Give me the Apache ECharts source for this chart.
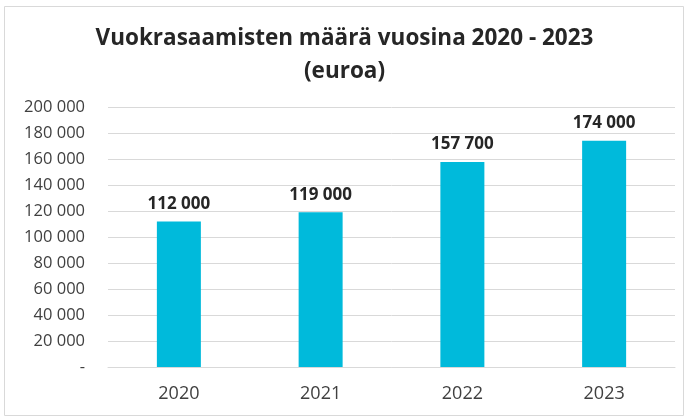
<!DOCTYPE html>
<html>
<head>
<meta charset="utf-8">
<script src="https://cdn.jsdelivr.net/npm/echarts@6/dist/echarts.min.js"></script>
<style>
  html, body { margin: 0; padding: 0; background: #ffffff; }
  #chart { width: 689px; height: 419px; }
</style>
</head>
<body>
<div id="chart"></div>
<script>
// Rent receivables per year (euros)
const years = ['2020', '2021', '2022', '2023'];
const receivables = [112000, 119000, 157700, 174000];
const titleText = 'Vuokrasaamisten määrä vuosina 2020 - 2023\n(euroa)';

// Finnish-style thousands grouping: "120 000", zero shown as "-"
function fmt(v) {
  if (v === 0) return '-';
  return String(v).replace(/\B(?=(\d{3})+(?!\d))/g, ' ');
}

const chart = echarts.init(document.getElementById('chart'));
chart.setOption({
  animation: false,
  textStyle: { fontFamily: '"Open Sans", sans-serif' },
  graphic: [{
    type: 'rect',
    shape: { x: 4.5, y: 6.5, width: 679, height: 409 },
    style: { fill: 'none', stroke: '#d9d9d9', lineWidth: 1 },
    silent: true
  }],
  title: {
    text: titleText,
    left: 'center',
    top: 17,
    textStyle: {
      fontFamily: '"Open Sans", sans-serif',
      fontSize: 22.5,
      fontWeight: 'bold',
      color: '#262626',
      lineHeight: 33
    }
  },
  grid: { left: 108, right: 14, top: 107, bottom: 52, containLabel: false },
  xAxis: {
    type: 'category',
    data: years,
    axisLine: { show: true, lineStyle: { color: '#d9d9d9', width: 1 } },
    axisTick: { show: false },
    axisLabel: { color: '#404040', fontSize: 18, margin: 18 }
  },
  yAxis: {
    type: 'value',
    min: 0,
    max: 200000,
    interval: 20000,
    axisLine: { show: false },
    axisTick: { show: false },
    axisLabel: { color: '#404040', fontSize: 16.5, margin: 23, formatter: fmt },
    splitLine: { lineStyle: { color: '#d9d9d9', width: 1 } }
  },
  series: [{
    type: 'bar',
    data: receivables,
    barWidth: 44,
    itemStyle: { color: '#00BADB' },
    label: {
      show: true,
      position: 'top',
      distance: 9,
      color: '#262626',
      fontSize: 17,
      fontWeight: 'bold',
      formatter: p => fmt(p.value)
    }
  }]
});
</script>
</body>
</html>
